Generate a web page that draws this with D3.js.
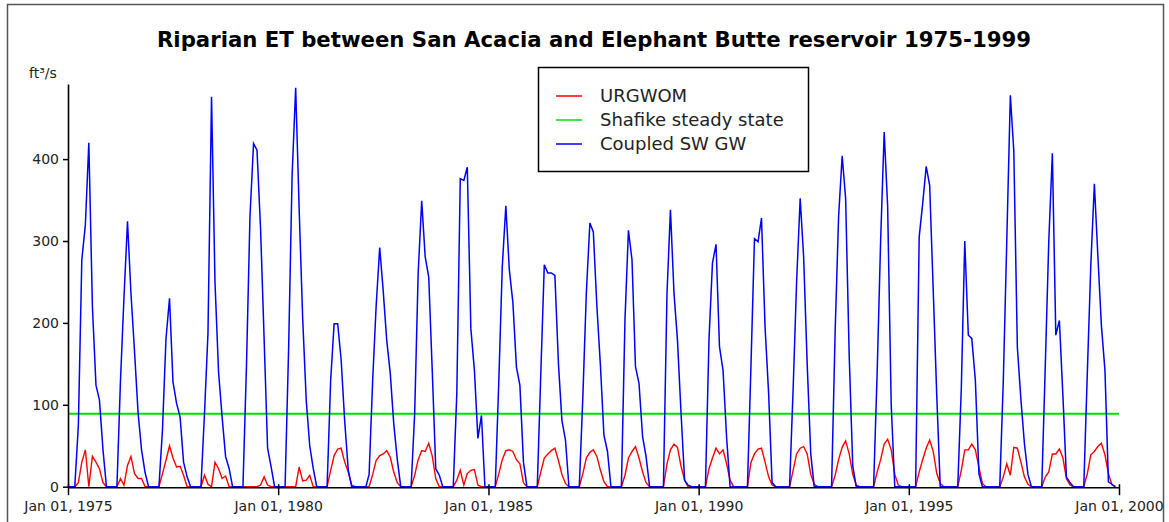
<!DOCTYPE html>
<html>
<head>
<meta charset="utf-8">
<script src="https://cdn.jsdelivr.net/npm/d3@7"></script>
<style>
  body { margin: 0; background: #fff; }
  text { font-family: "DejaVu Sans", Verdana, sans-serif; fill: #222; }
</style>
</head>
<body>
<div id="chart"></div>
<script>
// monthly values Jan 1975 .. Dec 1999, one row per year (ft3/s)
var coupledSWGW = [
  0, 0, 0, 75, 277, 320, 420, 220, 124, 106, 45, 0,      // 1975
  0, 0, 0, 130, 230, 324, 236, 165, 90, 45, 17, 0,       // 1976
  0, 0, 0, 70, 180, 230, 128, 102, 85, 30, 12, 0,        // 1977
  0, 0, 0, 90, 187, 476, 250, 140, 85, 37, 22, 0,        // 1978
  0, 0, 0, 150, 330, 419, 411, 315, 180, 47, 24, 0,      // 1979
  0, 0, 0, 170, 380, 487, 340, 205, 105, 50, 22, 0,      // 1980
  0, 0, 0, 130, 199, 199, 155, 80, 20, 0, 0, 0,          // 1981
  0, 0, 15, 130, 220, 292, 240, 179, 138, 77, 33, 0,     // 1982
  0, 0, 0, 90, 260, 349, 281, 256, 140, 22, 14, 0,       // 1983
  0, 0, 0, 114, 376, 374, 390, 193, 142, 59, 87, 0,      // 1984
  0, 0, 0, 130, 269, 343, 265, 225, 146, 124, 30, 0,     // 1985
  0, 0, 0, 140, 271, 261, 261, 258, 150, 81, 57, 0,      // 1986
  0, 0, 0, 110, 236, 322, 311, 220, 147, 63, 43, 0,      // 1987
  0, 0, 0, 204, 313, 277, 147, 126, 61, 37, 0, 0,        // 1988
  0, 0, 0, 236, 338, 236, 179, 90, 8, 2, 0, 0,           // 1989
  0, 0, 0, 180, 273, 296, 171, 142, 60, 0, 0, 0,         // 1990
  0, 0, 0, 150, 303, 299, 328, 195, 114, 5, 0, 0,        // 1991
  0, 0, 0, 120, 250, 352, 281, 150, 40, 0, 0, 0,         // 1992
  0, 0, 0, 190, 330, 404, 352, 160, 25, 0, 0, 0,         // 1993
  0, 0, 0, 140, 300, 433, 342, 100, 0, 0, 0, 0,          // 1994
  0, 0, 0, 305, 345, 391, 368, 240, 110, 0, 0, 0,        // 1995
  0, 0, 0, 120, 300, 185, 181, 130, 16, 0, 0, 0,         // 1996
  0, 0, 0, 130, 300, 478, 410, 170, 106, 53, 15, 0,      // 1997
  0, 0, 0, 150, 300, 407, 185, 203, 110, 12, 5, 0,       // 1998
  0, 0, 0, 140, 270, 370, 283, 197, 142, 6, 3, 0         // 1999
];

var urgwom = [
  0, 0, 0, 5, 30, 45, 0, 37, 30, 22, 5, 0,       // 1975
  0, 0, 0, 10, 2, 26, 37, 16, 10, 10, 0, 0,      // 1976
  0, 0, 0, 16, 32, 50, 35, 24, 25, 14, 0, 0,     // 1977
  0, 0, 0, 14, 3, 0, 30, 22, 10, 13, 0, 0,       // 1978
  0, 0, 0, 0, 0, 0, 0, 2, 12, 2, 0, 0,           // 1979
  0, 0, 0, 0, 0, 0, 24, 7, 8, 14, 0, 0,          // 1980
  0, 0, 0, 20, 38, 46, 47, 30, 18, 2, 0, 0,      // 1981
  0, 0, 0, 15, 32, 38, 40, 44, 36, 18, 5, 0,     // 1982
  0, 0, 0, 14, 33, 44, 43, 53, 37, 10, 0, 0,     // 1983
  0, 0, 0, 8, 20, 2, 16, 20, 21, 2, 0, 0,        // 1984
  0, 0, 0, 16, 33, 44, 45, 43, 33, 28, 5, 0,     // 1985
  0, 0, 0, 18, 35, 40, 44, 47, 32, 15, 4, 0,     // 1986
  0, 0, 0, 16, 35, 42, 45, 37, 20, 6, 0, 0,      // 1987
  0, 0, 0, 14, 35, 43, 49, 35, 18, 5, 0, 0,      // 1988
  0, 0, 0, 28, 45, 52, 48, 25, 8, 0, 0, 0,       // 1989
  0, 0, 0, 22, 35, 47, 40, 45, 28, 8, 0, 0,      // 1990
  0, 0, 0, 30, 40, 46, 47, 30, 12, 2, 0, 0,      // 1991
  0, 0, 0, 20, 40, 47, 49, 40, 15, 3, 0, 0,      // 1992
  0, 0, 0, 14, 33, 48, 56, 40, 15, 2, 0, 0,      // 1993
  0, 0, 0, 18, 33, 52, 58, 45, 15, 2, 0, 0,      // 1994
  0, 0, 0, 18, 33, 47, 57, 43, 16, 4, 0, 0,      // 1995
  0, 0, 0, 20, 45, 45, 52, 45, 24, 4, 0, 0,      // 1996
  0, 0, 0, 12, 28, 14, 48, 47, 30, 12, 3, 0,     // 1997
  0, 0, 0, 12, 18, 40, 40, 46, 35, 10, 2, 0,     // 1998
  0, 0, 0, 16, 39, 43, 49, 53, 39, 16, 2, 0      // 1999
];

var shafikeSteady = 89;   // constant
var yTicks = [0, 100, 200, 300, 400];
var xTickYears = [1975, 1980, 1985, 1990, 1995, 2000];
var seriesNames = ["URGWOM", "Shafike steady state", "Coupled SW GW"];
var seriesColors = ["#ff0000", "#00e000", "#0000ff"];

var svgWidth = 1169;
var svgHeight = 522;

// plot area in page pixels
var margin = { top: 84, right: 50, bottom: 35, left: 68 };
var width = svgWidth - margin.left - margin.right;
var height = svgHeight - margin.top - margin.bottom;

var svg = d3.select("#chart")
  .append("svg")
  .attr("width", svgWidth)
  .attr("height", svgHeight);

// outer frame
svg.append("rect")
  .attr("x", 7.5).attr("y", 4.5)
  .attr("width", 1156).attr("height", 530)
  .attr("fill", "none")
  .attr("stroke", "#555")
  .attr("stroke-width", 1.5);

var chart = svg.append("g")
  .attr("transform", `translate(${margin.left}, ${margin.top})`);

var months = d3.timeMonth.range(new Date(1975, 0, 1), new Date(2000, 0, 1));

var x = d3.scaleTime()
  .domain([new Date(1975, 0, 1), new Date(2000, 0, 1)])
  .range([0, 1051]);

var y = d3.scaleLinear()
  .domain([0, 491.7])
  .range([402.7, 0]);

// lines
var line = d3.line()
  .x((d, i) => x(months[i]))
  .y(d => y(d));

chart.append("line")
  .attr("x1", 0).attr("x2", x(new Date(2000, 0, 1)))
  .attr("y1", y(shafikeSteady)).attr("y2", y(shafikeSteady))
  .attr("stroke", seriesColors[1])
  .attr("stroke-width", 2);

chart.append("path")
  .datum(urgwom)
  .attr("fill", "none")
  .attr("stroke", seriesColors[0])
  .attr("stroke-width", 1.4)
  .attr("d", line);

chart.append("path")
  .datum(coupledSWGW)
  .attr("fill", "none")
  .attr("stroke", seriesColors[2])
  .attr("stroke-width", 1.5)
  .attr("d", line);

// axes
var leftAxis = d3.axisLeft(y).tickValues(yTicks).tickSize(5).tickSizeOuter(0).tickPadding(4);
var bottomAxis = d3.axisBottom(x)
  .tickValues(xTickYears.map(yr => new Date(yr, 0, 1)))
  .tickFormat(d3.timeFormat("Jan 01, %Y"))
  .tickSize(8).tickSizeOuter(0).tickPadding(6);

var yAxisG = chart.append("g").call(leftAxis);
var xAxisG = chart.append("g")
  .attr("transform", `translate(0, ${height + 0.2})`)
  .call(bottomAxis);

[yAxisG, xAxisG].forEach(function(g) {
  g.select(".domain").attr("stroke", "#000").attr("stroke-width", 1.6);
  g.selectAll(".tick line").attr("stroke", "#000").attr("stroke-width", 1.5);
  g.selectAll(".tick text")
    .attr("fill", "#222")
    .style("font-family", "DejaVu Sans, Verdana, sans-serif")
    .style("font-size", "14px");
});
xAxisG.selectAll(".tick line").attr("y1", -3);

// unit label
svg.append("text")
  .attr("x", 29).attr("y", 78)
  .style("font-size", "14px")
  .text("ft³/s");

// title
svg.append("text")
  .attr("x", 594).attr("y", 47)
  .attr("text-anchor", "middle")
  .attr("textLength", 874)
  .attr("lengthAdjust", "spacingAndGlyphs")
  .style("font-size", "22px")
  .style("font-weight", "bold")
  .style("fill", "#000")
  .text("Riparian ET between San Acacia and Elephant Butte reservoir 1975-1999");

// legend
var legend = svg.append("g").attr("transform", "translate(538, 67)");
legend.append("rect")
  .attr("x", 0.5).attr("y", 0.5)
  .attr("width", 270).attr("height", 104)
  .attr("fill", "#fff")
  .attr("stroke", "#000")
  .attr("stroke-width", 1.5);

seriesNames.forEach(function(name, i) {
  var ly = 29 + i * 24;
  legend.append("line")
    .attr("x1", 18).attr("x2", 44)
    .attr("y1", ly).attr("y2", ly)
    .attr("stroke", seriesColors[i])
    .attr("stroke-width", 1.5);
  legend.append("text")
    .attr("x", 62).attr("y", ly + 6)
    .style("font-size", "18px")
    .text(name);
});
</script>
</body>
</html>
